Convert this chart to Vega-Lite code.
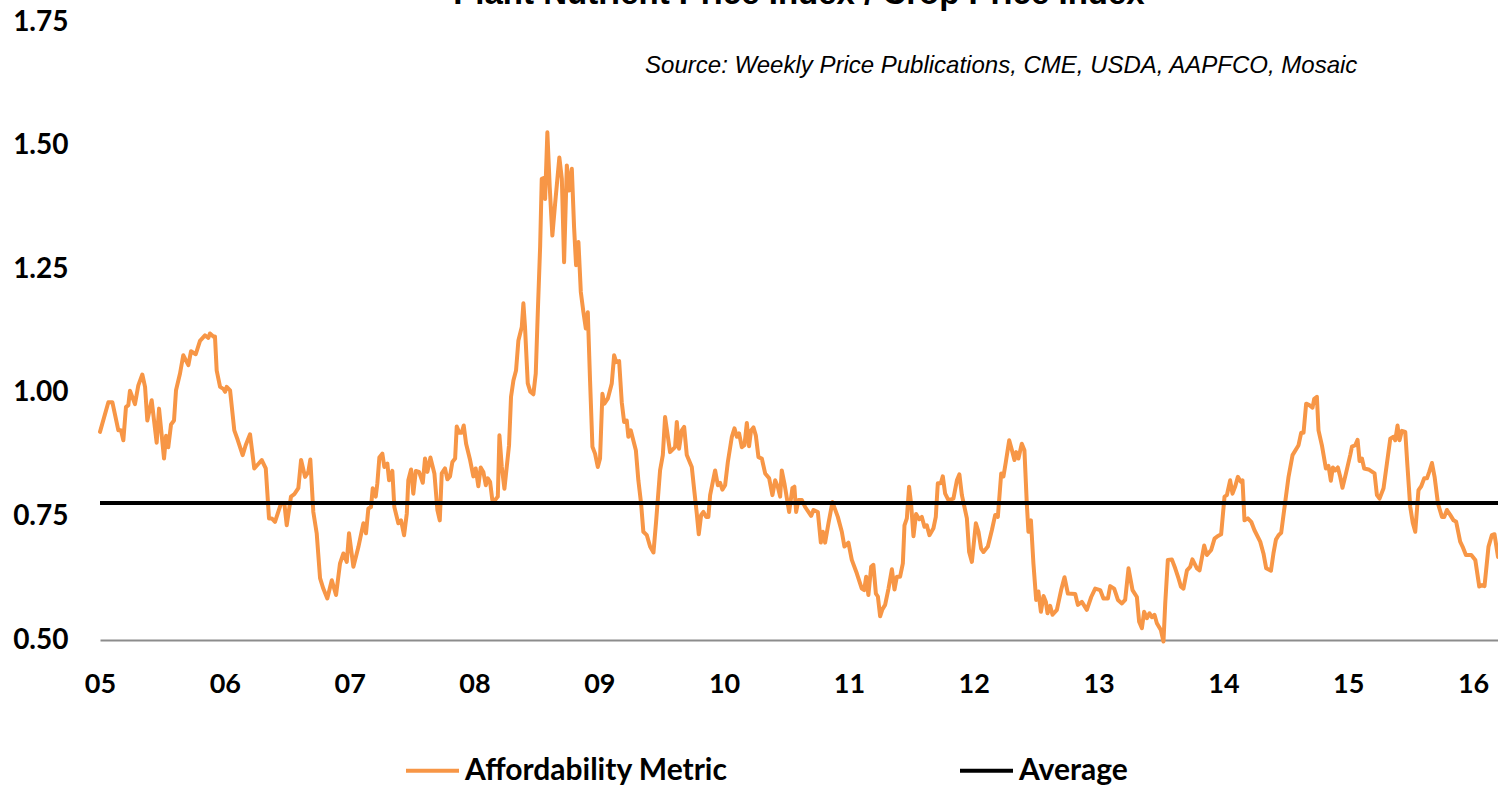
{
  "$schema": "https://vega.github.io/schema/vega-lite/v6.json",
  "width": 1398,
  "height": 618,
  "autosize": {"type": "none"},
  "padding": {"left": 100, "top": 22, "right": 0, "bottom": 148},
  "background": "white",
  "config": {"view": {"stroke": null}, "font": "Lato"},
  "title": {
    "text": "Plant Nutrient Price Index / Crop Price Index",
    "font": "Liberation Sans",
    "fontSize": 33,
    "fontWeight": "bold",
    "color": "#000000",
    "anchor": "middle",
    "offset": -3
  },
  "datasets": {
    "metric": [
      {"year":2005.000,"value":0.921},{"year":2005.067,"value":0.981},{"year":2005.099,"value":0.981},{"year":2005.147,"value":0.924},{"year":2005.168,"value":0.924},{"year":2005.187,"value":0.904},{"year":2005.208,"value":0.971},{"year":2005.227,"value":0.975},{"year":2005.240,"value":1.004},{"year":2005.280,"value":0.977},{"year":2005.307,"value":1.015},{"year":2005.339,"value":1.037},{"year":2005.361,"value":1.012},{"year":2005.379,"value":0.944},{"year":2005.414,"value":0.985},{"year":2005.454,"value":0.899},{"year":2005.473,"value":0.968},{"year":2005.513,"value":0.867},{"year":2005.529,"value":0.913},{"year":2005.547,"value":0.890},{"year":2005.569,"value":0.936},{"year":2005.593,"value":0.944},{"year":2005.609,"value":1.005},{"year":2005.641,"value":1.039},{"year":2005.667,"value":1.076},{"year":2005.708,"value":1.056},{"year":2005.729,"value":1.084},{"year":2005.767,"value":1.078},{"year":2005.801,"value":1.105},{"year":2005.841,"value":1.116},{"year":2005.868,"value":1.111},{"year":2005.881,"value":1.120},{"year":2005.908,"value":1.114},{"year":2005.921,"value":1.114},{"year":2005.935,"value":1.045},{"year":2005.962,"value":1.012},{"year":2005.988,"value":1.008},{"year":2006.002,"value":1.002},{"year":2006.015,"value":1.012},{"year":2006.042,"value":1.005},{"year":2006.076,"value":0.924},{"year":2006.103,"value":0.905},{"year":2006.143,"value":0.874},{"year":2006.167,"value":0.894},{"year":2006.202,"value":0.916},{"year":2006.236,"value":0.847},{"year":2006.268,"value":0.856},{"year":2006.296,"value":0.864},{"year":2006.328,"value":0.847},{"year":2006.354,"value":0.746},{"year":2006.376,"value":0.746},{"year":2006.402,"value":0.739},{"year":2006.450,"value":0.776},{"year":2006.477,"value":0.776},{"year":2006.496,"value":0.732},{"year":2006.530,"value":0.790},{"year":2006.557,"value":0.795},{"year":2006.589,"value":0.807},{"year":2006.611,"value":0.864},{"year":2006.643,"value":0.830},{"year":2006.669,"value":0.840},{"year":2006.685,"value":0.865},{"year":2006.709,"value":0.759},{"year":2006.736,"value":0.716},{"year":2006.763,"value":0.625},{"year":2006.789,"value":0.604},{"year":2006.821,"value":0.584},{"year":2006.857,"value":0.621},{"year":2006.891,"value":0.591},{"year":2006.923,"value":0.655},{"year":2006.950,"value":0.675},{"year":2006.977,"value":0.658},{"year":2006.995,"value":0.716},
      {"year":2007.030,"value":0.648},{"year":2007.070,"value":0.688},{"year":2007.110,"value":0.736},{"year":2007.131,"value":0.716},{"year":2007.150,"value":0.766},{"year":2007.171,"value":0.769},{"year":2007.185,"value":0.807},{"year":2007.209,"value":0.790},{"year":2007.222,"value":0.817},{"year":2007.238,"value":0.869},{"year":2007.262,"value":0.877},{"year":2007.278,"value":0.850},{"year":2007.302,"value":0.857},{"year":2007.316,"value":0.823},{"year":2007.342,"value":0.842},{"year":2007.358,"value":0.769},{"year":2007.390,"value":0.736},{"year":2007.412,"value":0.742},{"year":2007.436,"value":0.712},{"year":2007.458,"value":0.756},{"year":2007.470,"value":0.823},{"year":2007.492,"value":0.845},{"year":2007.510,"value":0.796},{"year":2007.530,"value":0.842},{"year":2007.556,"value":0.840},{"year":2007.586,"value":0.818},{"year":2007.604,"value":0.867},{"year":2007.623,"value":0.840},{"year":2007.647,"value":0.869},{"year":2007.679,"value":0.837},{"year":2007.703,"value":0.763},{"year":2007.722,"value":0.742},{"year":2007.738,"value":0.837},{"year":2007.764,"value":0.847},{"year":2007.783,"value":0.825},{"year":2007.804,"value":0.831},{"year":2007.823,"value":0.860},{"year":2007.845,"value":0.867},{"year":2007.858,"value":0.932},{"year":2007.879,"value":0.919},{"year":2007.898,"value":0.919},{"year":2007.914,"value":0.934},{"year":2007.933,"value":0.897},{"year":2007.965,"value":0.864},{"year":2007.991,"value":0.831},
      {"year":2008.010,"value":0.847},{"year":2008.031,"value":0.811},{"year":2008.050,"value":0.849},{"year":2008.071,"value":0.840},{"year":2008.091,"value":0.813},{"year":2008.107,"value":0.827},{"year":2008.125,"value":0.820},{"year":2008.143,"value":0.783},{"year":2008.165,"value":0.783},{"year":2008.187,"value":0.790},{"year":2008.200,"value":0.914},{"year":2008.219,"value":0.850},{"year":2008.240,"value":0.806},{"year":2008.277,"value":0.894},{"year":2008.293,"value":0.992},{"year":2008.312,"value":1.025},{"year":2008.333,"value":1.045},{"year":2008.352,"value":1.106},{"year":2008.379,"value":1.133},{"year":2008.392,"value":1.181},{"year":2008.405,"value":1.133},{"year":2008.427,"value":1.019},{"year":2008.448,"value":1.002},{"year":2008.472,"value":0.997},{"year":2008.491,"value":1.039},{"year":2008.507,"value":1.160},{"year":2008.526,"value":1.295},{"year":2008.539,"value":1.433},{"year":2008.558,"value":1.435},{"year":2008.566,"value":1.392},{"year":2008.584,"value":1.527},{"year":2008.603,"value":1.416},{"year":2008.624,"value":1.318},{"year":2008.646,"value":1.382},{"year":2008.680,"value":1.476},{"year":2008.700,"value":1.433},{"year":2008.718,"value":1.264},{"year":2008.740,"value":1.460},{"year":2008.758,"value":1.409},{"year":2008.780,"value":1.453},{"year":2008.798,"value":1.335},{"year":2008.814,"value":1.258},{"year":2008.833,"value":1.305},{"year":2008.852,"value":1.204},{"year":2008.873,"value":1.163},{"year":2008.892,"value":1.130},{"year":2008.908,"value":1.163},{"year":2008.926,"value":1.025},{"year":2008.945,"value":0.891},{"year":2008.966,"value":0.877},{"year":2008.988,"value":0.850},
      {"year":2009.006,"value":0.867},{"year":2009.025,"value":0.998},{"year":2009.041,"value":0.978},{"year":2009.068,"value":0.988},{"year":2009.100,"value":1.019},{"year":2009.119,"value":1.076},{"year":2009.135,"value":1.062},{"year":2009.159,"value":1.064},{"year":2009.180,"value":0.981},{"year":2009.199,"value":0.941},{"year":2009.220,"value":0.944},{"year":2009.233,"value":0.911},{"year":2009.252,"value":0.924},{"year":2009.293,"value":0.884},{"year":2009.313,"value":0.823},{"year":2009.335,"value":0.776},{"year":2009.353,"value":0.719},{"year":2009.381,"value":0.712},{"year":2009.407,"value":0.689},{"year":2009.434,"value":0.677},{"year":2009.455,"value":0.739},{"year":2009.487,"value":0.843},{"year":2009.509,"value":0.874},{"year":2009.527,"value":0.951},{"year":2009.567,"value":0.880},{"year":2009.607,"value":0.890},{"year":2009.621,"value":0.941},{"year":2009.639,"value":0.887},{"year":2009.661,"value":0.924},{"year":2009.680,"value":0.931},{"year":2009.701,"value":0.874},{"year":2009.741,"value":0.850},{"year":2009.762,"value":0.800},{"year":2009.781,"value":0.756},{"year":2009.797,"value":0.714},{"year":2009.816,"value":0.753},{"year":2009.834,"value":0.759},{"year":2009.856,"value":0.749},{"year":2009.874,"value":0.749},{"year":2009.888,"value":0.793},{"year":2009.928,"value":0.843},{"year":2009.950,"value":0.813},{"year":2009.968,"value":0.818},{"year":2009.986,"value":0.804},
      {"year":2010.008,"value":0.813},{"year":2010.030,"value":0.860},{"year":2010.062,"value":0.911},{"year":2010.083,"value":0.928},{"year":2010.102,"value":0.911},{"year":2010.120,"value":0.918},{"year":2010.142,"value":0.890},{"year":2010.163,"value":0.894},{"year":2010.182,"value":0.939},{"year":2010.200,"value":0.892},{"year":2010.216,"value":0.924},{"year":2010.235,"value":0.930},{"year":2010.254,"value":0.914},{"year":2010.275,"value":0.870},{"year":2010.302,"value":0.867},{"year":2010.329,"value":0.837},{"year":2010.361,"value":0.827},{"year":2010.387,"value":0.793},{"year":2010.409,"value":0.823},{"year":2010.430,"value":0.810},{"year":2010.449,"value":0.790},{"year":2010.462,"value":0.843},{"year":2010.483,"value":0.817},{"year":2010.521,"value":0.759},{"year":2010.547,"value":0.807},{"year":2010.563,"value":0.810},{"year":2010.577,"value":0.759},{"year":2010.595,"value":0.783},{"year":2010.623,"value":0.783},{"year":2010.649,"value":0.769},{"year":2010.697,"value":0.751},{"year":2010.716,"value":0.763},{"year":2010.751,"value":0.759},{"year":2010.775,"value":0.697},{"year":2010.791,"value":0.719},{"year":2010.809,"value":0.697},{"year":2010.836,"value":0.736},{"year":2010.868,"value":0.779},{"year":2010.911,"value":0.749},{"year":2010.943,"value":0.719},{"year":2010.964,"value":0.689},{"year":2010.996,"value":0.697},
      {"year":2011.023,"value":0.662},{"year":2011.063,"value":0.635},{"year":2011.103,"value":0.604},{"year":2011.122,"value":0.601},{"year":2011.138,"value":0.628},{"year":2011.156,"value":0.591},{"year":2011.178,"value":0.648},{"year":2011.196,"value":0.652},{"year":2011.216,"value":0.594},{"year":2011.232,"value":0.588},{"year":2011.250,"value":0.548},{"year":2011.268,"value":0.562},{"year":2011.290,"value":0.571},{"year":2011.317,"value":0.604},{"year":2011.344,"value":0.643},{"year":2011.365,"value":0.602},{"year":2011.384,"value":0.628},{"year":2011.410,"value":0.628},{"year":2011.432,"value":0.655},{"year":2011.445,"value":0.732},{"year":2011.464,"value":0.746},{"year":2011.482,"value":0.810},{"year":2011.498,"value":0.776},{"year":2011.517,"value":0.710},{"year":2011.538,"value":0.755},{"year":2011.563,"value":0.744},{"year":2011.584,"value":0.749},{"year":2011.605,"value":0.729},{"year":2011.624,"value":0.732},{"year":2011.645,"value":0.712},{"year":2011.677,"value":0.726},{"year":2011.696,"value":0.749},{"year":2011.712,"value":0.817},{"year":2011.736,"value":0.817},{"year":2011.752,"value":0.831},{"year":2011.771,"value":0.796},{"year":2011.797,"value":0.783},{"year":2011.837,"value":0.786},{"year":2011.865,"value":0.823},{"year":2011.885,"value":0.835},{"year":2011.905,"value":0.793},{"year":2011.945,"value":0.746},{"year":2011.963,"value":0.678},{"year":2011.985,"value":0.658},
      {"year":2012.003,"value":0.702},{"year":2012.017,"value":0.736},{"year":2012.038,"value":0.719},{"year":2012.059,"value":0.685},{"year":2012.078,"value":0.678},{"year":2012.113,"value":0.689},{"year":2012.145,"value":0.722},{"year":2012.172,"value":0.753},{"year":2012.193,"value":0.749},{"year":2012.220,"value":0.837},{"year":2012.238,"value":0.831},{"year":2012.257,"value":0.860},{"year":2012.284,"value":0.904},{"year":2012.310,"value":0.880},{"year":2012.326,"value":0.864},{"year":2012.340,"value":0.880},{"year":2012.358,"value":0.867},{"year":2012.385,"value":0.897},{"year":2012.406,"value":0.884},{"year":2012.425,"value":0.776},{"year":2012.438,"value":0.719},{"year":2012.458,"value":0.742},{"year":2012.478,"value":0.655},{"year":2012.500,"value":0.581},{"year":2012.518,"value":0.598},{"year":2012.538,"value":0.557},{"year":2012.559,"value":0.589},{"year":2012.578,"value":0.577},{"year":2012.591,"value":0.554},{"year":2012.612,"value":0.569},{"year":2012.631,"value":0.551},{"year":2012.666,"value":0.561},{"year":2012.700,"value":0.601},{"year":2012.727,"value":0.627},{"year":2012.754,"value":0.594},{"year":2012.813,"value":0.593},{"year":2012.834,"value":0.571},{"year":2012.866,"value":0.577},{"year":2012.906,"value":0.561},{"year":2012.941,"value":0.587},{"year":2012.973,"value":0.604},
      {"year":2013.013,"value":0.601},{"year":2013.039,"value":0.584},{"year":2013.075,"value":0.584},{"year":2013.093,"value":0.609},{"year":2013.125,"value":0.604},{"year":2013.155,"value":0.581},{"year":2013.187,"value":0.574},{"year":2013.213,"value":0.581},{"year":2013.240,"value":0.645},{"year":2013.272,"value":0.601},{"year":2013.307,"value":0.587},{"year":2013.325,"value":0.537},{"year":2013.347,"value":0.524},{"year":2013.365,"value":0.557},{"year":2013.387,"value":0.544},{"year":2013.408,"value":0.554},{"year":2013.427,"value":0.546},{"year":2013.448,"value":0.551},{"year":2013.467,"value":0.534},{"year":2013.499,"value":0.520},{"year":2013.520,"value":0.497},{"year":2013.534,"value":0.574},{"year":2013.555,"value":0.662},{"year":2013.587,"value":0.663},{"year":2013.614,"value":0.645},{"year":2013.640,"value":0.625},{"year":2013.660,"value":0.608},{"year":2013.680,"value":0.604},{"year":2013.708,"value":0.641},{"year":2013.734,"value":0.648},{"year":2013.752,"value":0.663},{"year":2013.788,"value":0.645},{"year":2013.809,"value":0.641},{"year":2013.846,"value":0.691},{"year":2013.868,"value":0.672},{"year":2013.902,"value":0.682},{"year":2013.929,"value":0.705},{"year":2013.953,"value":0.710},{"year":2013.982,"value":0.714},
      {"year":2014.009,"value":0.790},{"year":2014.028,"value":0.793},{"year":2014.054,"value":0.823},{"year":2014.073,"value":0.796},{"year":2014.095,"value":0.811},{"year":2014.116,"value":0.830},{"year":2014.140,"value":0.820},{"year":2014.153,"value":0.823},{"year":2014.169,"value":0.742},{"year":2014.196,"value":0.746},{"year":2014.223,"value":0.739},{"year":2014.249,"value":0.722},{"year":2014.295,"value":0.699},{"year":2014.321,"value":0.675},{"year":2014.343,"value":0.645},{"year":2014.381,"value":0.640},{"year":2014.401,"value":0.675},{"year":2014.421,"value":0.703},{"year":2014.442,"value":0.712},{"year":2014.463,"value":0.717},{"year":2014.490,"value":0.769},{"year":2014.522,"value":0.830},{"year":2014.554,"value":0.874},{"year":2014.602,"value":0.894},{"year":2014.623,"value":0.919},{"year":2014.642,"value":0.919},{"year":2014.663,"value":0.978},{"year":2014.688,"value":0.975},{"year":2014.714,"value":0.970},{"year":2014.728,"value":0.988},{"year":2014.749,"value":0.992},{"year":2014.762,"value":0.924},{"year":2014.789,"value":0.894},{"year":2014.821,"value":0.847},{"year":2014.842,"value":0.852},{"year":2014.861,"value":0.822},{"year":2014.877,"value":0.849},{"year":2014.896,"value":0.843},{"year":2014.917,"value":0.849},{"year":2014.936,"value":0.830},{"year":2014.954,"value":0.808},{"year":2014.982,"value":0.837},
      {"year":2015.016,"value":0.874},{"year":2015.030,"value":0.891},{"year":2015.056,"value":0.894},{"year":2015.075,"value":0.905},{"year":2015.091,"value":0.862},{"year":2015.110,"value":0.867},{"year":2015.128,"value":0.847},{"year":2015.163,"value":0.845},{"year":2015.211,"value":0.837},{"year":2015.230,"value":0.793},{"year":2015.251,"value":0.786},{"year":2015.283,"value":0.807},{"year":2015.310,"value":0.857},{"year":2015.337,"value":0.907},{"year":2015.363,"value":0.911},{"year":2015.377,"value":0.904},{"year":2015.395,"value":0.934},{"year":2015.411,"value":0.904},{"year":2015.430,"value":0.923},{"year":2015.457,"value":0.921},{"year":2015.475,"value":0.850},{"year":2015.497,"value":0.769},{"year":2015.518,"value":0.736},{"year":2015.537,"value":0.719},{"year":2015.563,"value":0.803},{"year":2015.585,"value":0.811},{"year":2015.609,"value":0.827},{"year":2015.631,"value":0.827},{"year":2015.649,"value":0.840},{"year":2015.671,"value":0.858},{"year":2015.692,"value":0.830},{"year":2015.719,"value":0.776},{"year":2015.751,"value":0.749},{"year":2015.769,"value":0.749},{"year":2015.791,"value":0.763},{"year":2015.817,"value":0.753},{"year":2015.844,"value":0.742},{"year":2015.865,"value":0.739},{"year":2015.897,"value":0.699},{"year":2015.916,"value":0.689},{"year":2015.943,"value":0.672},{"year":2015.986,"value":0.672},
      {"year":2016.018,"value":0.662},{"year":2016.050,"value":0.608},{"year":2016.071,"value":0.611},{"year":2016.092,"value":0.609},{"year":2016.124,"value":0.689},{"year":2016.151,"value":0.712},{"year":2016.172,"value":0.714},{"year":2016.200,"value":0.668}
    ],
    "average": [{"value": 0.777}],
    "note": [{"label": "Source: Weekly Price Publications, CME, USDA, AAPFCO, Mosaic"}]
  },
  "layer": [
    {
      "data": {"name": "metric"},
      "mark": {"type": "line", "strokeWidth": 4, "strokeJoin": "round", "strokeCap": "round"},
      "encoding": {
        "x": {
          "field": "year",
          "type": "quantitative",
          "scale": {"domain": [2005, 2016.2], "nice": false, "zero": false},
          "axis": {
            "title": null,
            "values": [2005, 2006, 2007, 2008, 2009, 2010, 2011, 2012, 2013, 2014, 2015, 2016],
            "labelExpr": "substring('' + datum.value, 2)",
            "grid": false,
            "domain": true,
            "domainColor": "#8c8c8c",
            "domainWidth": 2,
            "ticks": false,
            "tickSize": 0,
            "labelPadding": 31,
            "labelFont": "Lato",
            "labelFontWeight": "bold",
            "labelFontSize": 27,
            "labelColor": "#000000",
            "labelOverlap": false,
            "labelBound": false,
            "labelFlush": false
          }
        },
        "y": {
          "field": "value",
          "type": "quantitative",
          "scale": {"domain": [0.5, 1.75], "nice": false, "zero": false},
          "axis": {
            "title": null,
            "values": [0.5, 0.75, 1, 1.25, 1.5, 1.75],
            "format": ".2f",
            "grid": false,
            "domain": false,
            "ticks": false,
            "tickSize": 0,
            "labelPadding": 32,
            "labelFont": "Lato",
            "labelFontWeight": "bold",
            "labelFontSize": 28,
            "labelColor": "#000000",
            "labelOverlap": false
          }
        },
        "color": {
          "datum": "Affordability Metric",
          "type": "nominal",
          "scale": {"domain": ["Affordability Metric", "Average"], "range": ["#F79646", "#000000"]},
          "legend": {
            "title": null,
            "orient": "none",
            "legendX": 304,
            "legendY": 720,
            "direction": "horizontal",
            "padding": 0,
            "symbolType": "stroke",
            "symbolSize": 2809,
            "symbolStrokeWidth": 4,
            "labelFont": "Lato",
            "labelFontWeight": "bold",
            "labelFontSize": 30,
            "labelColor": "#000000",
            "labelOffset": 4,
            "labelLimit": 500,
            "columnPadding": 224
          }
        }
      }
    },
    {
      "data": {"name": "average"},
      "mark": {"type": "rule", "strokeWidth": 4},
      "encoding": {
        "y": {"field": "value", "type": "quantitative"},
        "color": {"datum": "Average", "type": "nominal"}
      }
    },
    {
      "data": {"name": "note"},
      "mark": {"type": "text", "font": "Liberation Sans", "fontStyle": "italic", "fontSize": 24, "align": "center", "baseline": "middle", "color": "#000000"},
      "encoding": {
        "text": {"field": "label"},
        "x": {"datum": 2012.22},
        "y": {"datum": 1.662}
      }
    }
  ]
}
